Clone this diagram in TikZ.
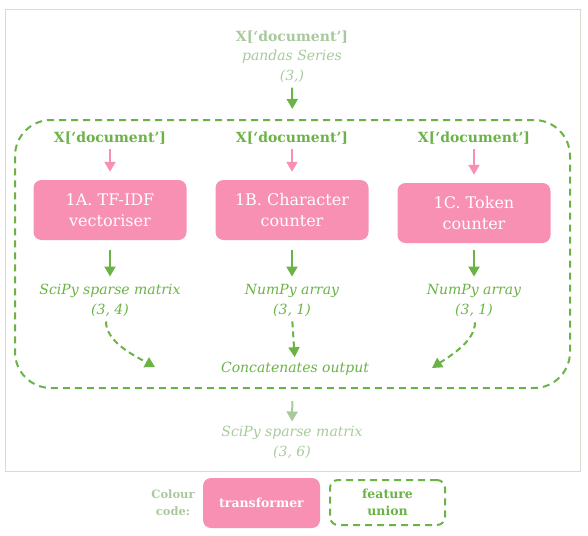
\documentclass[tikz,border=0pt]{standalone}
\usepackage{fontspec}
\setmainfont{DejaVu Serif}
\usetikzlibrary{arrows.meta}
\definecolor{pk}{HTML}{F890B3}
\definecolor{gn}{HTML}{6BB347}
\definecolor{lg}{HTML}{A9C99D}
\definecolor{fr}{HTML}{D5DECD}
\begin{document}
\begin{tikzpicture}[x=1pt,y=-1pt,
  hdr/.style={font=\fontsize{14}{16}\selectfont\bfseries, inner sep=0pt},
  sub/.style={font=\fontsize{14}{20}\selectfont\itshape, align=center, inner sep=0pt},
  tbox/.style={fill=pk, text=white, rounded corners=8pt, minimum width=153pt, minimum height=60pt, align=center, font=\fontsize{16}{21}\selectfont, inner sep=0pt},
  tip/.style={-{Triangle[length=10pt,width=11pt]}, line width=2pt},
  dtip/.style={-{Triangle[length=10pt,width=11pt]}, line width=2pt, dash pattern=on 6pt off 4pt},
  udash/.style={draw=gn, line width=2pt, dash pattern=on 7pt off 5pt}
]
\useasboundingbox (0,0) rectangle (588,535);
\draw[fr, line width=1pt] (5,10) rectangle (580,471);

% top input
\node[hdr, text=lg] (tin) at (292,37) {X[‘document’]};
\node[sub, text=lg] (tinsub) at (292,66) {pandas Series\\(3,)};

% feature union
\node[udash, rounded corners=36pt, minimum width=555pt, minimum height=268pt] (fu) at (292.5,254) {};
\draw[tip, gn, shorten <=5pt, shorten >=10pt] (tinsub.south) -- (fu.north);

% column headers
\node[hdr, text=gn] (ha) at (110,138) {X[‘document’]};
\node[hdr, text=gn] (hb) at (292,138) {X[‘document’]};
\node[hdr, text=gn] (hc) at (474,138) {X[‘document’]};

% transformers
\node[tbox] (ta) at (110,210) {1A. TF-IDF\\vectoriser};
\node[tbox] (tb) at (292,210) {1B. Character\\counter};
\node[tbox] (tc) at (474,213) {1C. Token\\counter};

\draw[tip, pk, shorten <=5pt, shorten >=8pt] (ha.south) -- (ta.north);
\draw[tip, pk, shorten <=5pt, shorten >=8pt] (hb.south) -- (tb.north);
\draw[tip, pk, shorten <=5pt, shorten >=8pt] (hc.south) -- (tc.north);

% outputs
\node[sub, text=gn] (oa) at (110,300) {SciPy sparse matrix\\(3, 4)};
\node[sub, text=gn] (ob) at (292,300) {NumPy array\\(3, 1)};
\node[sub, text=gn] (oc) at (474,300) {NumPy array\\(3, 1)};

\draw[tip, gn, shorten <=10pt, shorten >=7pt] (ta.south) -- (oa.north);
\draw[tip, gn, shorten <=10pt, shorten >=7pt] (tb.south) -- (ob.north);
\draw[tip, gn, shorten <=7pt, shorten >=7pt] (tc.south) -- (oc.north);

\node[sub, text=gn] (cat) at (295,369) {Concatenates output};
\coordinate (ca) at (155,367);
\coordinate (cc) at (432,368);
\draw[dtip, gn, shorten <=5pt] (oa.south -| 106,0) .. controls +(0,25) and +(-22,-12) .. (ca);
\draw[dtip, gn, shorten <=5pt, shorten >=5pt] (ob.south) -- (cat.north);
\draw[dtip, gn, shorten <=6pt] (oc.south -| 475,0) .. controls +(0,25) and +(18,-12) .. (cc);

% final output
\node[sub, text=lg] (fout) at (292,442) {SciPy sparse matrix\\(3, 6)};
\draw[tip, lg, shorten <=12pt, shorten >=4pt] (fu.south) -- (fout.north);

% legend
\node[font=\fontsize{11.5}{17}\selectfont\bfseries, text=lg, align=center, inner sep=0pt] (cc1) at (173,503) {Colour\\code:};
\node[fill=pk, text=white, rounded corners=8pt, minimum width=117pt, minimum height=50pt, font=\fontsize{12.5}{14}\selectfont\bfseries, inner sep=0pt] (lt) at (261.5,503) {transformer};
\node[udash, rounded corners=8pt, minimum width=115pt, minimum height=45pt, text=gn, font=\fontsize{12.5}{17}\selectfont\bfseries, align=center, inner sep=0pt] (lu) at (387.5,502.5) {feature\\union};
\end{tikzpicture}
\end{document}
